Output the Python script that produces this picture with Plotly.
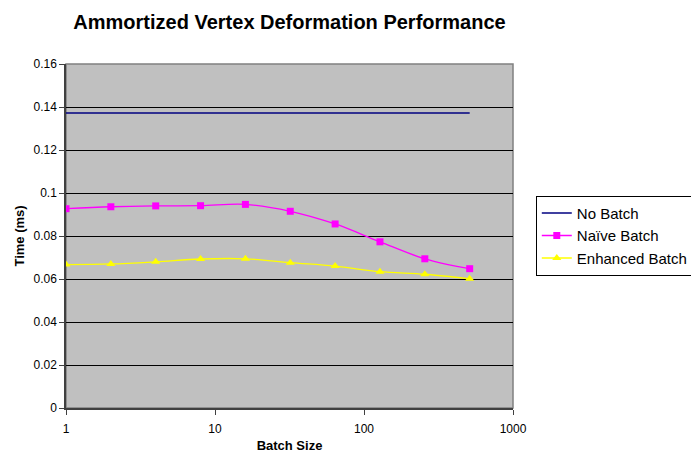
import plotly.graph_objects as go

batch_sizes = [1, 2, 4, 8, 16, 32, 64, 128, 256, 512]
no_batch = [0.1372] * 10
naive_batch = [0.0927, 0.0936, 0.0940, 0.0941, 0.0947, 0.0915, 0.0856, 0.0773, 0.0694, 0.0648]
enhanced_batch = [0.0667, 0.0670, 0.0680, 0.0693, 0.0694, 0.0676, 0.0660, 0.0634, 0.0622, 0.0601]
y_ticks = [0, 0.02, 0.04, 0.06, 0.08, 0.1, 0.12, 0.14, 0.16]
y_tick_labels = ["0", "0.02", "0.04", "0.06", "0.08", "0.1", "0.12", "0.14", "0.16"]
x_ticks = [1, 10, 100, 1000]

font = "Liberation Sans, Arial, sans-serif"

fig = go.Figure()
fig.add_trace(go.Scatter(x=batch_sizes, y=no_batch, name="No Batch", mode="lines",
                         line=dict(color="#000080", width=1.3)))
fig.add_trace(go.Scatter(x=batch_sizes, y=naive_batch, name="Naïve Batch", mode="lines+markers",
                         line=dict(color="#FF00FF", width=1.3, shape="spline"),
                         marker=dict(symbol="square", size=7, color="#FF00FF")))
fig.add_trace(go.Scatter(x=batch_sizes, y=enhanced_batch, name="Enhanced Batch", mode="lines+markers",
                         line=dict(color="#FFFF00", width=1.3, shape="spline"),
                         marker=dict(symbol="triangle-up", size=8, color="#FFFF00")))

fig.update_layout(
    width=691, height=455,
    margin=dict(l=66, r=178, t=64, b=47, autoexpand=False),
    paper_bgcolor="white", plot_bgcolor="#C0C0C0",
    font=dict(family=font, size=12, color="black"),
    title=dict(text="<b>Ammortized Vertex Deformation Performance</b>",
               x=0.5, xref="paper", xanchor="center", y=0.952, yanchor="middle",
               font=dict(size=20, family=font)),
    showlegend=True,
    legend=dict(x=1.051, xanchor="left", y=0.617, yanchor="top",
                bgcolor="white", bordercolor="black", borderwidth=1,
                font=dict(size=15, family=font), tracegroupgap=0,
                itemwidth=30),
    xaxis=dict(type="log", range=[0, 3], tickvals=x_ticks, ticktext=["1", "10", "100", "1000"],
               showgrid=False, zeroline=False, showline=True, linecolor="#404040", linewidth=1.5,
               mirror=False, ticks="outside", ticklen=5, tickcolor="#404040",
               ticklabelstandoff=4, automargin=False,
               title=dict(text="<b>Batch Size</b>", font=dict(size=13), standoff=6),
               tickfont=dict(size=12)),
    yaxis=dict(range=[0, 0.16], tickvals=y_ticks, ticktext=y_tick_labels,
               showgrid=True, gridcolor="black", gridwidth=1, zeroline=False,
               showline=True, linecolor="#404040", linewidth=1.5, mirror=False,
               ticks="outside", ticklen=5, tickcolor="#404040", automargin=False,
               title=dict(text="<b>Time (ms)</b>", font=dict(size=13), standoff=6),
               tickfont=dict(size=12)),
)
# gray border on top and right
fig.add_shape(type="rect", xref="paper", yref="paper", x0=0, y0=0, x1=1, y1=1,
              line=dict(color="#808080", width=1.5), layer="below")

fig.write_html("out.html")
